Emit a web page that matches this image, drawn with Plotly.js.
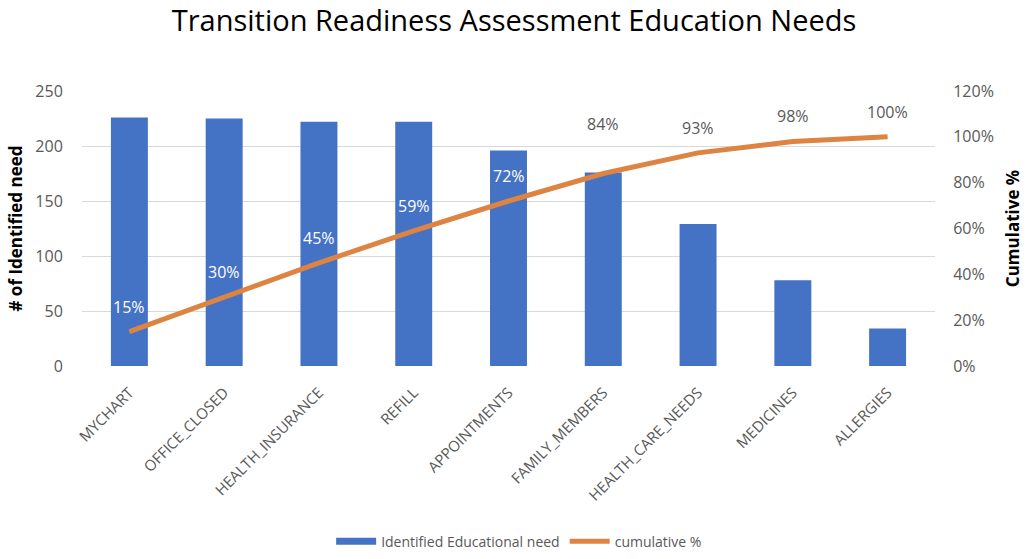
<!DOCTYPE html>
<html>
<head>
<meta charset="utf-8">
<script src="https://cdn.plot.ly/plotly-3.0.1.min.js"></script>
<style>
  html, body {margin: 0; padding: 0; background: #fff;}
  #graphe {width: 1028px; height: 559px;}
</style>
</head>
<body>
<div id="graphe"></div>
<script>
let categories = ["MYCHART", "OFFICE_CLOSED", "HEALTH_INSURANCE", "REFILL", "APPOINTMENTS",
    "FAMILY_MEMBERS", "HEALTH_CARE_NEEDS", "MEDICINES", "ALLERGIES"]
let besoins = [226, 225, 222, 222, 196, 176, 129, 78, 34]
let cumul_pct = [15, 30, 45, 59, 72, 84, 93, 98, 100]
let etiquettes = ["15%", "30%", "45%", "59%", "72%", "84%", "93%", "98%", "100%"]

let couleur_barres = "#4472C4"
let couleur_ligne = "#DD8443"
let gris = "#595959"
let police = "Open Sans, sans-serif"

let trace_barres = {
    x: categories, y: besoins, type: "bar", name: "Identified Educational need",
    marker: {color: couleur_barres}, yaxis: "y", showlegend: false
}
// trace vide pour avoir un symbole rectangulaire dans la legende
let legende_barres = {
    x: [null], y: [null], type: "scatter", mode: "lines", name: "Identified Educational need",
    line: {color: couleur_barres, width: 7}
}
let trace_cumul = {
    x: categories, y: cumul_pct, type: "scatter", mode: "lines", name: "cumulative %",
    line: {color: couleur_ligne, width: 5}, yaxis: "y2"
}

let annotations = []
for (let i = 0; i < categories.length; i++){
    // les etiquettes sur les barres sont blanches, les autres grises
    let sur_barre = cumul_pct[i] * 250 / 120 < besoins[i] - 10
    annotations.push({
        x: categories[i], y: cumul_pct[i], xref: "x", yref: "y2",
        text: etiquettes[i], showarrow: false,
        yshift: (i == 5) ? 50 : 25,
        font: {family: police, size: 16, color: sur_barre ? "#ffffff" : gris}
    })
}

let layout = {
    width: 1028, height: 559,
    paper_bgcolor: "#ffffff", plot_bgcolor: "#ffffff",
    font: {family: police, color: gris},
    title: {
        text: "Transition Readiness Assessment Education Needs",
        font: {family: police, size: 29, color: "#000000"},
        x: 0.5, xanchor: "center", y: 0.963, yanchor: "middle"
    },
    margin: {l: 82, r: 93, t: 91, b: 193, pad: 0},
    bargap: 0.61,
    xaxis: {
        tickangle: -45, tickfont: {size: 15, color: gris},
        showgrid: false, showline: false, ticks: "outside", ticklen: 11,
        tickcolor: "rgba(0,0,0,0)", automargin: false
    },
    yaxis: {
        range: [0, 250], dtick: 50, tickfont: {size: 16, color: gris},
        gridcolor: "#d9d9d9", gridwidth: 1, zeroline: false, showline: false,
        ticks: "outside", ticklen: 15, tickcolor: "rgba(0,0,0,0)", automargin: false,
        title: {text: "# of Identified need", standoff: 8,
            font: {family: police, size: 17, color: "#000000", weight: "bold"}}
    },
    yaxis2: {
        range: [0, 120], dtick: 20, ticksuffix: "%", overlaying: "y", side: "right",
        tickfont: {size: 16, color: gris}, showgrid: false, zeroline: false, showline: false,
        ticks: "outside", ticklen: 14, tickcolor: "rgba(0,0,0,0)", automargin: false,
        title: {text: "Cumulative %", standoff: 14,
            font: {family: police, size: 17, color: "#000000", weight: "bold"}}
    },
    showlegend: true,
    legend: {
        orientation: "h", xref: "container", yref: "container",
        x: 0.505, xanchor: "center", y: 0.031, yanchor: "middle",
        font: {size: 14, color: gris}, itemwidth: 40, tracegroupgap: 20
    },
    annotations: annotations
}

Plotly.newPlot("graphe", [trace_barres, legende_barres, trace_cumul], layout, {staticPlot: true})
</script>
</body>
</html>
